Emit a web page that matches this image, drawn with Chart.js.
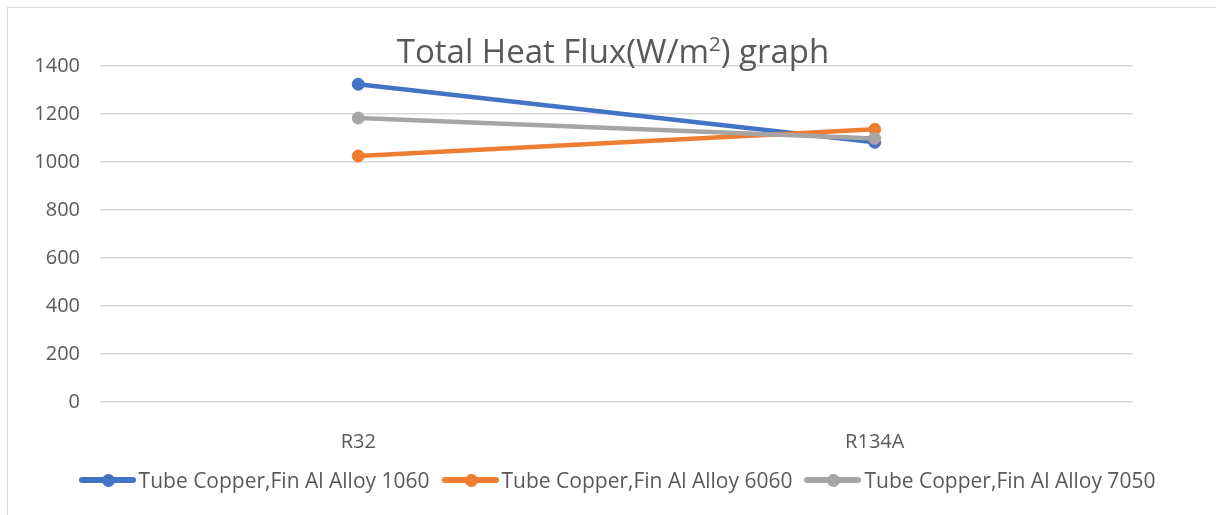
<!DOCTYPE html>
<html>
<head>
<meta charset="utf-8">
<script src="https://cdn.jsdelivr.net/npm/chart.js@4.4.0/dist/chart.umd.min.js"></script>
<style>
  html, body { margin: 0; padding: 0; background: #fff; }
  #wrap { position: relative; width: 1216px; height: 515px; overflow: hidden; font-family: 'Open Sans', sans-serif; color: #595959; }
  #frame { position: absolute; left: 7px; top: 7px; width: 1300px; height: 600px; border-left: 1.5px solid #d9d9d9; border-top: 1.5px solid #d9d9d9; }
  #chart { position: absolute; left: 0; top: 0; }
  #title { position: absolute; left: 0; width: 1226px; top: 28px; text-align: center; font-size: 33px; white-space: nowrap; }
  #title sup { font-size: 0.62em; line-height: 0; }
  #legend { position: absolute; left: 0; width: 1234px; top: 466px; display: flex; justify-content: center; gap: 12px; font-size: 21px; white-space: nowrap; }
  .item { display: flex; align-items: center; }
  .swatch { position: relative; width: 57px; height: 13px; margin-right: 3px; }
  .swatch .ln { position: absolute; left: 0; right: 0; top: 3.5px; height: 6px; border-radius: 3px; }
  .swatch .dot { position: absolute; left: 23px; top: 0; width: 13px; height: 13px; border-radius: 50%; }
</style>
</head>
<body>
<div id="wrap">
  <div id="frame"></div>
  <canvas id="chart" width="1216" height="515"></canvas>
  <div id="title">Total Heat Flux(W/m<sup>2</sup>) graph</div>
  <div id="legend"></div>
</div>
<script>
const categories = ['R32', 'R134A']
const alloy1060 = [1324, 1082]
const alloy6060 = [1025, 1136]
const alloy7050 = [1183, 1098]
const yTicks = [0, 200, 400, 600, 800, 1000, 1200, 1400]
const seriesNames = ['Tube Copper,Fin Al Alloy 1060', 'Tube Copper,Fin Al Alloy 6060', 'Tube Copper,Fin Al Alloy 7050']
const seriesColors = ['#4472C4', '#ED7D31', '#A5A5A5']

const seriesData = [alloy1060, alloy6060, alloy7050]
// gray drawn on top, like the spreadsheet draws later series over earlier ones
const drawOrder = [2, 1, 0]

const datasets = seriesData.map((values, i) => ({
  label: seriesNames[i],
  data: values,
  borderColor: seriesColors[i],
  backgroundColor: seriesColors[i],
  pointBackgroundColor: seriesColors[i],
  pointBorderColor: seriesColors[i],
  borderWidth: 4.5,
  pointRadius: 6,
  pointBorderWidth: 1,
  tension: 0,
  order: drawOrder[i]
}))

function renderLegend() {
  const box = document.getElementById('legend')
  seriesNames.forEach((name, i) => {
    const item = document.createElement('div')
    item.className = 'item'
    const sw = document.createElement('div')
    sw.className = 'swatch'
    const ln = document.createElement('div')
    ln.className = 'ln'
    ln.style.background = seriesColors[i]
    const dot = document.createElement('div')
    dot.className = 'dot'
    dot.style.background = seriesColors[i]
    sw.appendChild(ln)
    sw.appendChild(dot)
    const text = document.createElement('span')
    text.innerText = name
    item.appendChild(sw)
    item.appendChild(text)
    box.appendChild(item)
  })
}

const tickFont = { family: "'Open Sans', sans-serif", size: 20 }

new Chart(document.getElementById('chart'), {
  type: 'line',
  data: { labels: categories, datasets: datasets },
  options: {
    responsive: false,
    animation: false,
    layout: { padding: { left: 0, right: 83, top: 66, bottom: 50 } },
    plugins: { legend: { display: false }, tooltip: { enabled: false }, title: { display: false } },
    scales: {
      x: {
        offset: true,
        grid: { display: false, drawTicks: false },
        border: { display: false },
        ticks: { color: '#595959', font: tickFont, padding: 28 },
        afterFit: s => { s.height = 63 }
      },
      y: {
        min: 0,
        max: 1400,
        afterBuildTicks: s => { s.ticks = yTicks.map(v => ({ value: v })) },
        grid: { color: '#d9d9d9', lineWidth: 1.5, drawTicks: false },
        border: { display: false },
        ticks: { color: '#595959', font: tickFont, padding: 20, callback: v => String(v) },
        afterFit: s => { s.width = 100 }
      }
    }
  }
})

renderLegend()
</script>
</body>
</html>
